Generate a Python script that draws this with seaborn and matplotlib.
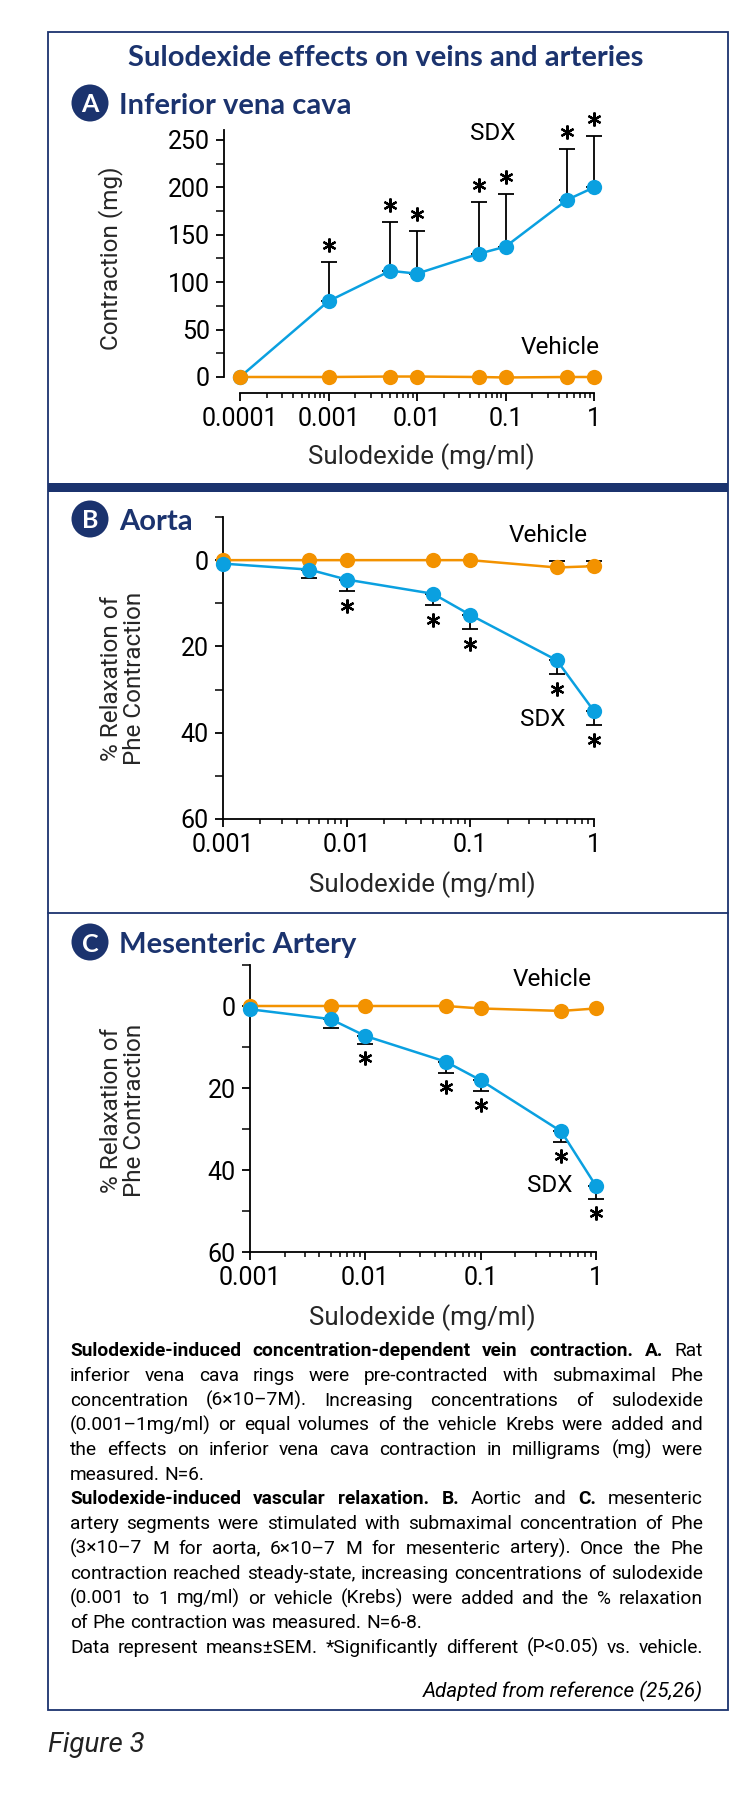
import numpy as np
import pandas as pd
import matplotlib
matplotlib.use("Agg")
import matplotlib.pyplot as plt
import seaborn as sns
from matplotlib import font_manager as fm
from matplotlib.patches import Ellipse, Rectangle
from matplotlib.lines import Line2D
from matplotlib.ticker import LogLocator, NullFormatter, FixedLocator
from matplotlib.transforms import offset_copy

# ---------------- data ----------------
conc_A = [0.0001, 0.001, 0.005, 0.01, 0.05, 0.1, 0.5, 1.0]
sdx_A = [0, 80, 112, 109, 130, 137.5, 187, 200]
sdx_A_sem = [0, 41, 52, 45, 55, 56, 54, 54]
veh_A = [0, 0, 0.5, 0.5, 0, -0.5, 0, 0]
sig_A = [False, True, True, True, True, True, True, True]

conc_BC = [0.001, 0.005, 0.01, 0.05, 0.1, 0.5, 1.0]
sdx_B = [0.8, 2.2, 4.5, 7.8, 12.7, 23.2, 35.0]
sdx_B_sem = [0, 2.0, 2.6, 2.7, 3.2, 3.1, 3.2]
veh_B = [0, 0, 0, 0, 0, 1.7, 1.4]
veh_B_sem = [0, 0, 0, 0, 0, 1.5, 1.3]
sig_B = [False, False, True, True, True, True, True]

sdx_C = [0.8, 3.2, 7.3, 13.6, 18.1, 30.6, 43.9]
sdx_C_sem = [0, 2.2, 1.9, 2.7, 2.6, 2.6, 3.2]
veh_C = [0, 0, 0, 0, 0.6, 1.2, 0.6]
veh_C_sem = [0, 0, 0, 0, 0, 0, 0]
sig_C = [False, False, True, True, True, True, True]

xticks_A = [0.0001, 0.001, 0.01, 0.1, 1]
xticklabels_A = ["0.0001", "0.001", "0.01", "0.1", "1"]
xticks_BC = [0.001, 0.01, 0.1, 1]
xticklabels_BC = ["0.001", "0.01", "0.1", "1"]
yticks_A = [0, 50, 100, 150, 200, 250]
yminor_A = [25, 75, 125, 175, 225]
yticks_BC = [0, 20, 40, 60]
yminor_BC = [-10, 10, 30, 50]

title = "Sulodexide effects on veins and arteries"
panel_titles = ["Inferior vena cava", "Aorta", "Mesenteric Artery"]
xlabel = "Sulodexide (mg/ml)"
ylabel_A = "Contraction (mg)"
ylabel_BC = "% Relaxation of\nPhe Contraction"

caption_lines = [
    ([("Sulodexide-induced concentration-dependent vein contraction. A.", True), ("Rat", False)], True),
    ([("inferior vena cava rings were pre-contracted with submaximal Phe", False)], True),
    ([("concentration (6\u00d710\u20137M). Increasing concentrations of sulodexide", False)], True),
    ([("(0.001\u20131mg/ml) or equal volumes of the vehicle Krebs were added and", False)], True),
    ([("the effects on inferior vena cava contraction in milligrams (mg) were", False)], True),
    ([("measured. N=6.", False)], False),
    ([("Sulodexide-induced vascular relaxation. B.", True), ("Aortic and", False), ("C.", True), ("mesenteric", False)], True),
    ([("artery segments were stimulated with submaximal concentration of Phe", False)], True),
    ([("(3\u00d710\u20137 M for aorta, 6\u00d710\u20137 M for mesenteric artery). Once the Phe", False)], True),
    ([("contraction reached steady-state, increasing concentrations of sulodexide", False)], True),
    ([("(0.001 to 1 mg/ml) or vehicle (Krebs) were added and the % relaxation", False)], True),
    ([("of Phe contraction was measured. N=6-8.", False)], False),
    ([("Data represent means\u00b1SEM. *Significantly different (P<0.05) vs. vehicle.", False)], True),
]
source = "Adapted from reference (25,26)"
figlabel = "Figure 3"

# ---------------- style ----------------
sns.set_theme(style="ticks")
avail = {f.name for f in fm.fontManager.ttflist}
def pick(*names):
    for n in names:
        if n in avail:
            return n
    return "DejaVu Sans"
PLOT_FONT = pick("Roboto", "Lato", "Open Sans", "DejaVu Sans")
HEAD_FONT = pick("Lato", "Open Sans", "Roboto", "DejaVu Sans")
CAP_FONT = pick("Roboto", "Lato", "Liberation Sans Narrow", "DejaVu Sans")
plt.rcParams["font.family"] = [PLOT_FONT, "DejaVu Sans"]

NAVY = "#1b336e"
BLUE = "#0aa0e0"
ORANGE = "#f39200"

W, H = 756, 1802
fig = plt.figure(figsize=(W / 100, H / 100), dpi=100)
fig.patch.set_facecolor("white")

def fx(x):
    return x / W
def fy(y):
    return 1 - y / H
def axes_px(l, t, r, b):
    return fig.add_axes([l / W, 1 - b / H, (r - l) / W, (b - t) / H])

# ---------------- frame ----------------
fig.add_artist(Rectangle((fx(48), fy(1710)), (728 - 48) / W, (1710 - 32) / H,
                         transform=fig.transFigure, fill=False, edgecolor=NAVY, linewidth=1.3))
fig.add_artist(Rectangle((fx(48), fy(492)), (728 - 48) / W, 8.5 / H,
                         transform=fig.transFigure, facecolor=NAVY, edgecolor="none"))
fig.add_artist(Line2D([fx(48), fx(728)], [fy(913), fy(913)], transform=fig.transFigure,
                      color=NAVY, linewidth=1.3))

fig.text(fx(386), fy(58), title, ha="center", va="center", fontsize=21, fontweight="bold",
         color=NAVY, family=[HEAD_FONT, "DejaVu Sans"])

def header(letter, text, cx, cy):
    r = 18.5
    fig.add_artist(Ellipse((fx(cx), fy(cy)), 2 * r / W, 2 * r / H, transform=fig.transFigure,
                           facecolor=NAVY, edgecolor="none"))
    fig.text(fx(cx), fy(cy), letter, ha="center", va="center_baseline", fontsize=18,
             fontweight="bold", color="white", family=[HEAD_FONT, "DejaVu Sans"])
    fig.text(fx(cx + 29), fy(cy), text, ha="left", va="center_baseline", fontsize=21,
             fontweight="bold", color=NAVY, family=[HEAD_FONT, "DejaVu Sans"])

header("A", panel_titles[0], 90, 103)
header("B", panel_titles[1], 90, 519)
header("C", panel_titles[2], 90, 942)

# ---------------- panels ----------------
def draw_panel(ax, conc, sdx, sdx_sem, veh, veh_sem, sig, star_dy, hue_order):
    n = len(conc)
    df = pd.DataFrame({"conc": list(conc) * 2,
                       "value": list(sdx) + list(veh),
                       "series": ["SDX"] * n + ["Vehicle"] * n})
    ax.set_xscale("log")
    sns.lineplot(data=df, x="conc", y="value", hue="series", hue_order=hue_order,
                 palette={"SDX": BLUE, "Vehicle": ORANGE}, marker="o", markersize=11,
                 markeredgewidth=0, linewidth=1.8, estimator=None, legend=False,
                 ax=ax, clip_on=False, zorder=3)
    c = np.array(conc); s = np.array(sdx, float); e = np.array(sdx_sem, float)
    m = e > 0
    ax.errorbar(c[m], s[m], yerr=[np.zeros(m.sum()), e[m]], fmt="none", ecolor="black",
                elinewidth=1.3, capsize=6, capthick=1.3, zorder=2, clip_on=False)
    v = np.array(veh, float); ve = np.array(veh_sem, float)
    mv = ve > 0
    if mv.any():
        ax.errorbar(c[mv], v[mv], yerr=[ve[mv], np.zeros(mv.sum())], fmt="none", ecolor="black",
                    elinewidth=1.3, capsize=6, capthick=1.3, zorder=2, clip_on=False)
    sg = np.array(sig)
    tr = offset_copy(ax.transData, fig=fig, x=0, y=star_dy, units="dots")
    ax.plot(c[sg], (s + e)[sg], linestyle="none", marker=(6, 2, 0), markersize=10,
            markeredgewidth=1.6, color="black", transform=tr, clip_on=False, zorder=4)
    ax.set_xlabel(""); ax.set_ylabel("")
    ax.xaxis.set_minor_locator(LogLocator(base=10, subs=np.arange(2, 10)))
    ax.xaxis.set_minor_formatter(NullFormatter())
    for sp in ["top", "right"]:
        ax.spines[sp].set_visible(False)
    for sp in ["left", "bottom"]:
        ax.spines[sp].set_linewidth(1.3)
        ax.spines[sp].set_color("black")
    ax.tick_params(which="major", direction="out", length=5.8, width=1.3, colors="black",
                   labelsize=18, pad=4.5)
    ax.tick_params(which="minor", direction="out", length=3.6, width=1.1, colors="black")
    ax.tick_params(axis="y", which="minor", length=5.5)
    ax.set_facecolor("none")

# Panel A
axA = axes_px(240, 130.5, 594, 377)
draw_panel(axA, conc_A, sdx_A, sdx_A_sem, veh_A, [0] * len(veh_A), sig_A, 17,
           ["SDX", "Vehicle"])
axA.set_xlim(1e-4, 1)
axA.set_ylim(0, 260)
axA.set_xticks(xticks_A, labels=xticklabels_A)
axA.set_yticks(yticks_A)
axA.yaxis.set_minor_locator(FixedLocator(yminor_A))
axA.spines["left"].set_position(("outward", 11.5))
axA.spines["bottom"].set_position(("outward", 11.5))
axA.spines["left"].set_bounds(0, 260)
axA.spines["bottom"].set_bounds(1e-4, 1)
axA.set_ylabel(ylabel_A, fontsize=17.5, va="center")
axA.yaxis.set_label_coords((111 - 240) / 354, (377 - 258) / 246.5)
axA.set_xlabel(xlabel, fontsize=18.5, va="center")
axA.xaxis.set_label_coords((421 - 240) / 354, (377 - 457) / 246.5)

# Panel B
axB = axes_px(223, 517, 594, 819)
draw_panel(axB, conc_BC, sdx_B, sdx_B_sem, veh_B, veh_B_sem, sig_B, -15,
           ["Vehicle", "SDX"])
axB.set_xlim(1e-3, 1)
axB.set_ylim(60, -10)
axB.set_xticks(xticks_BC, labels=xticklabels_BC)
axB.set_yticks(yticks_BC)
axB.yaxis.set_minor_locator(FixedLocator(yminor_BC))
axB.set_ylabel(ylabel_BC, fontsize=17.5, va="center", linespacing=1.0)
axB.yaxis.set_label_coords((123 - 223) / 371, (819 - 678) / 302)
axB.set_xlabel(xlabel, fontsize=18.5, va="center")
axB.xaxis.set_label_coords((422 - 223) / 371, (819 - 885) / 302)

# Panel C
axC = axes_px(250, 965, 596, 1252)
draw_panel(axC, conc_BC, sdx_C, sdx_C_sem, veh_C, veh_C_sem, sig_C, -14,
           ["Vehicle", "SDX"])
axC.set_xlim(1e-3, 1)
axC.set_ylim(60, -10)
axC.set_xticks(xticks_BC, labels=xticklabels_BC)
axC.set_yticks(yticks_BC)
axC.yaxis.set_minor_locator(FixedLocator(yminor_BC))
axC.set_ylabel(ylabel_BC, fontsize=17.5, va="center", linespacing=1.0)
axC.yaxis.set_label_coords((123 - 250) / 346, (1252 - 1110) / 287)
axC.set_xlabel(xlabel, fontsize=18.5, va="center")
axC.xaxis.set_label_coords((422 - 250) / 346, (1252 - 1318) / 287)

# series labels
for (txt, x, y) in [("SDX", 493, 133), ("Vehicle", 560, 348),
                    ("Vehicle", 548, 535), ("SDX", 543, 720),
                    ("Vehicle", 552, 980), ("SDX", 550, 1185)]:
    fig.text(fx(x), fy(y), txt, ha="center", va="center", fontsize=17.5, color="black")

# ---------------- caption (justified) ----------------
fig.canvas.draw()
rend = fig.canvas.get_renderer()
CAP_X0, CAP_X1 = 70, 703
def measure(s, bold, fs):
    t = fig.text(0, 0, s, fontsize=fs, fontweight="bold" if bold else "normal",
                 family=[CAP_FONT, "DejaVu Sans"])
    w = t.get_window_extent(rend).width
    t.remove()
    return w

def line_words(segs):
    out = []
    for txt, b in segs:
        for w in txt.split(" "):
            out.append((w, b))
    return out

def natural(fs):
    sp = measure("x x", False, fs) - measure("xx", False, fs)
    best = 0
    for segs, _ in caption_lines:
        ws = line_words(segs)
        tot = sum(measure(w, b, fs) for w, b in ws) + sp * (len(ws) - 1)
        best = max(best, tot)
    return best, sp

fs0 = 13.0
nat, _ = natural(fs0)
cap_fs = float(np.clip(fs0 * (CAP_X1 - CAP_X0) * 0.995 / nat, 10, 16))
_, space_w = natural(cap_fs)

base0, step = 1356, 24.75
for i, (segs, justify) in enumerate(caption_lines):
    ws = line_words(segs)
    widths = [measure(w, b, cap_fs) for w, b in ws]
    if justify and len(ws) > 1:
        gap = (CAP_X1 - CAP_X0 - sum(widths)) / (len(ws) - 1)
    else:
        gap = space_w
    x = CAP_X0
    y = base0 + i * step
    for (w, b), wd in zip(ws, widths):
        fig.text(fx(x), fy(y), w, ha="left", va="baseline", fontsize=cap_fs,
                 fontweight="bold" if b else "normal", color="black",
                 family=[CAP_FONT, "DejaVu Sans"])
        x += wd + gap

fig.text(fx(703), fy(1697), source, ha="right", va="baseline", fontsize=cap_fs + 1,
         style="italic", color="black", family=[CAP_FONT, "DejaVu Sans"])
fig.text(fx(48), fy(1752), figlabel, ha="left", va="baseline", fontsize=20,
         style="italic", color="#222222", family=[CAP_FONT, "DejaVu Sans"])

fig.savefig("out.png", dpi=100, facecolor="white")
